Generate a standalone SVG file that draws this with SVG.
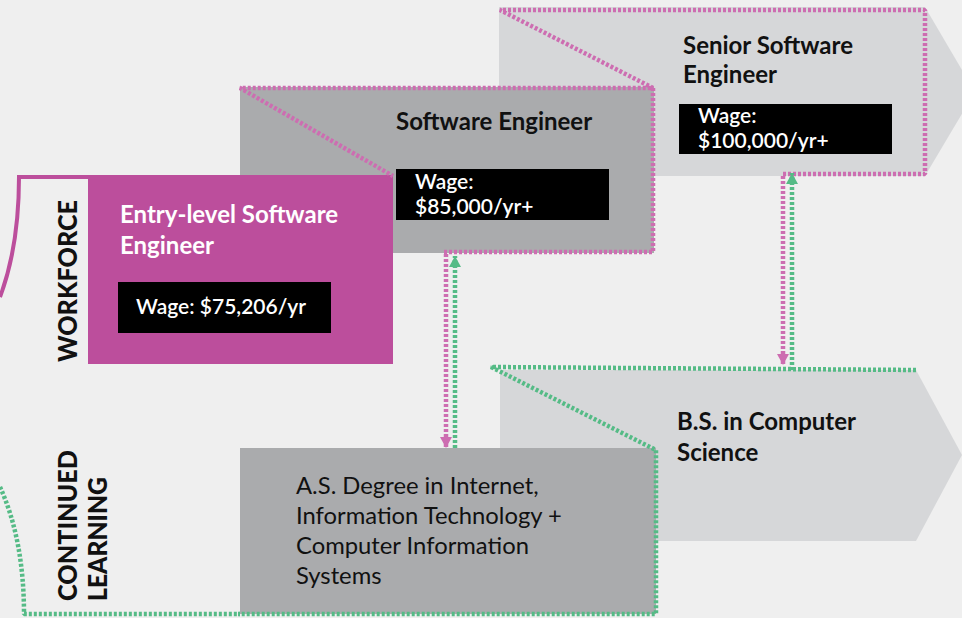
<svg xmlns="http://www.w3.org/2000/svg" width="962" height="618" viewBox="0 0 962 618">
<style>
.bg{fill:#efefef}
.light{fill:#d6d7d9}
.mid{fill:#aaabad}
.mag{fill:#bc4e9c}
.blk{fill:#000}
.t{font-family:Lato,"Noto Sans","Liberation Sans",sans-serif}
.title{font-size:24px;font-weight:700;fill:#111}
.wt{font-size:21px;font-weight:600;fill:#fff}
.body{font-size:23.8px;font-weight:400;fill:#111}
.lane{font-size:26px;font-weight:900;fill:#111}
.dm{fill:none;stroke:#cd6db1;stroke-width:4.5;stroke-dasharray:3 2;stroke-linejoin:bevel}
.dg{fill:none;stroke:#55bb86;stroke-width:4.5;stroke-dasharray:3 2;stroke-linejoin:bevel}
</style>
<defs>
<marker id="am" markerUnits="userSpaceOnUse" markerWidth="14" markerHeight="12" refX="11" refY="6" orient="auto" viewBox="0 0 12 12">
<path d="M0,0 L11,6 L0,12 Z" fill="#cd6db1"/>
</marker>
<marker id="ag" markerUnits="userSpaceOnUse" markerWidth="14" markerHeight="12" refX="11" refY="6" orient="auto" viewBox="0 0 12 12">
<path d="M0,0 L11,6 L0,12 Z" fill="#55bb86"/>
</marker>
</defs>
<rect class="bg" x="0" y="0" width="962" height="618"/>

<g id="lanes">
<path d="M0,297 C12,265 19,225 19,177 L100,177" fill="none" stroke="#bc4e9c" stroke-width="4"/>
<path class="dg" d="M0,487 C16,522 24,565 24,614 L240,614"/>
<text class="t lane" transform="translate(77,362) rotate(-90)" textLength="162" lengthAdjust="spacingAndGlyphs">WORKFORCE</text>
<text class="t lane" transform="translate(77,601) rotate(-90)" textLength="151" lengthAdjust="spacingAndGlyphs">CONTINUED</text>
<text class="t lane" transform="translate(107,601) rotate(-90)" textLength="124" lengthAdjust="spacingAndGlyphs">LEARNING</text>
</g>

<g id="senior">
<polygon class="light" points="499,7 925,7 975,92 925,176 499,176"/>
</g>
<g id="bs">
<polygon class="light" points="500,370 916,370 962,455 916,541 500,541"/>
</g>

<g id="se">
<rect class="mid" x="240" y="87" width="414" height="166"/>
</g>

<g id="as">
<rect class="mid" x="240" y="448" width="416" height="166"/>
</g>

<g id="entry">
<rect class="mag" x="88" y="175" width="305" height="189"/>
</g>

<g id="connectors">
<path class="dm" d="M783,174 L925,174 L925,10 L500,10 L653,88 L240,88 L393,176"/>
<path class="dm" d="M653,88 L653,252 L444,252"/>
<path class="dg" d="M916,370 L491,367 L656,450 L656,614 L238,614"/>
<line class="dm" x1="446" y1="254" x2="446" y2="448" marker-end="url(#am)"/>
<line class="dg" x1="455" y1="448" x2="455" y2="256" marker-end="url(#ag)"/>
<line class="dm" x1="783" y1="176" x2="783" y2="365" marker-end="url(#am)"/>
<line class="dg" x1="792" y1="370" x2="792" y2="173" marker-end="url(#ag)"/>
</g>

<g id="senior-text">
<text class="t title" x="683" y="54">Senior Software</text>
<text class="t title" x="683" y="83">Engineer</text>
<rect class="blk" x="679" y="104" width="213" height="50"/>
<text class="t wt" x="698" y="123">Wage:</text>
<text class="t wt" x="698" y="148">$100,000/yr+</text>
</g>

<g id="se-text">
<text class="t title" x="396" y="130">Software Engineer</text>
<rect class="blk" x="396" y="169" width="213" height="51"/>
<text class="t wt" x="415" y="189">Wage:</text>
<text class="t wt" x="415" y="214">$85,000/yr+</text>
</g>

<g id="entry-text">
<text class="t title" x="120" y="223" style="fill:#fff">Entry-level Software</text>
<text class="t title" x="120" y="254" style="fill:#fff">Engineer</text>
<rect class="blk" x="118" y="282" width="213" height="51"/>
<text class="t wt" x="136" y="314">Wage: $75,206/yr</text>
</g>

<g id="bs-text">
<text class="t title" x="677" y="430">B.S. in Computer</text>
<text class="t title" x="677" y="461">Science</text>
</g>

<g id="as-text">
<text class="t body" x="296" y="494">A.S. Degree in Internet,</text>
<text class="t body" x="296" y="524">Information Technology +</text>
<text class="t body" x="296" y="554">Computer Information</text>
<text class="t body" x="296" y="584">Systems</text>
</g>
</svg>
